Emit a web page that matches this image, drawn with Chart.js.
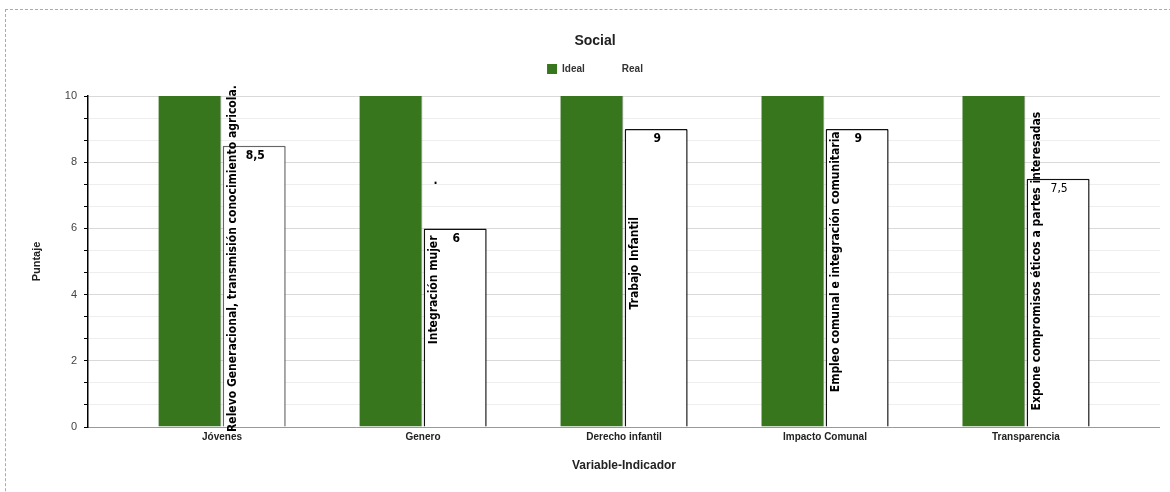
<!DOCTYPE html>
<html>
<head>
<meta charset="utf-8">
<script src="https://cdn.jsdelivr.net/npm/chart.js@4.4.0/dist/chart.umd.min.js"></script>
<style>
html,body{margin:0;padding:0;background:#fff;overflow:hidden;}
#box{position:absolute;left:5px;top:9px;width:1220px;height:600px;border:1px dashed #aaa;}
#chart{position:absolute;left:6px;top:10px;}
</style>
</head>
<body>
<div id="box"></div>
<canvas id="chart" width="1154" height="482"></canvas>
<script>
let categories=["Jóvenes","Genero","Derecho infantil","Impacto Comunal","Transparencia"];
let ideal=[10,10,10,10,10];
let real=[8.5,6,9,9,7.5];
let realLabels=["8,5","6","9","9","7,5"];
let notes=["Relevo Generacional, transmisión conocimiento agricola.","Integración mujer","Trabajo Infantil","Empleo comunal e integración comunitaria","Expone compromisos éticos a partes interesadas"];
let yTicks=[0,2,4,6,8,10];

// where the rotated notes start (axis units), kept apart from the data
let noteBottom=[-0.15,2.5,3.55,1.05,0.5];

let chart;

window.onload=function(){
    Chart.defaults.font.family="'Liberation Sans', Arial, sans-serif";
    initChart();
}

let noteFont="bold 12px 'DejaVu Sans Condensed', 'DejaVu Sans'";

let labelPlugin={
    id:"labels",
    afterDatasetsDraw(c){
        let ctx=c.ctx;
        let meta=c.getDatasetMeta(1);
        let y=c.scales.y;
        ctx.save();
        meta.data.forEach(function(bar,i){
            let left=bar.x-bar.width/2;
            ctx.fillStyle="#000";
            ctx.textAlign="center";
            ctx.textBaseline="middle";
            ctx.font=i===4?"12px 'DejaVu Sans Condensed', 'DejaVu Sans'":noteFont;
            ctx.fillText(realLabels[i],bar.x+1,bar.y+10);

            ctx.save();
            ctx.translate(left+10.5,y.getPixelForValue(noteBottom[i]));
            ctx.rotate(-Math.PI/2);
            ctx.textAlign="left";
            ctx.font=noteFont;
            ctx.fillText(notes[i],0,0);
            ctx.restore();
        });
        // stray dot in the Genero column
        let b=meta.data[1];
        ctx.font=noteFont;
        ctx.fillText(".",b.x-b.width/2+12,y.getPixelForValue(7.45));
        ctx.restore();
    }
};

function initChart(){

    let ctx=document.getElementById("chart");

    chart=new Chart(ctx,{
        type:"bar",
        data:{
            datasets:[
                {
                    label:"Ideal",
                    data:ideal.map((v,i)=>({x:i,y:v})),
                    backgroundColor:"#38761d",
                    borderColor:"#8a8a8a",
                    borderWidth:{top:0,left:0,bottom:0,right:1}
                },
                {
                    label:"Real",
                    data:real.map((v,i)=>({x:i,y:v})),
                    backgroundColor:"#ffffff",
                    borderColor:["#666","#111","#111","#111","#111"],
                    borderWidth:1.5,
                    borderRadius:1
                }
            ]
        },
        options:{
            responsive:false,
            animation:false,
            categoryPercentage:0.64,
            barPercentage:0.98,
            layout:{padding:{left:24,right:0,top:0,bottom:0}},
            plugins:{
                tooltip:{enabled:false},
                title:{
                    display:true,
                    text:"Social",
                    color:"#222",
                    font:{size:14,weight:"bold",lineHeight:1},
                    padding:{top:24,bottom:-6}
                },
                subtitle:{
                    display:true,
                    text:"",
                    weight:900,
                    font:{size:10,lineHeight:1},
                    padding:{top:2,bottom:0}
                },
                legend:{
                    labels:{
                        boxWidth:10,
                        boxHeight:10,
                        padding:22,
                        color:"#333",
                        font:{size:10,weight:"bold"},
                        generateLabels(c){
                            let items=Chart.defaults.plugins.legend.labels.generateLabels(c);
                            items[1].strokeStyle="rgba(0,0,0,0)";
                            items[1].lineWidth=0;
                            items[0].lineWidth=0;
                            return items;
                        }
                    }
                }
            },
            scales:{
                x:{
                    type:"linear",
                    offset:false,
                    min:-0.667,
                    max:4.667,
                    afterBuildTicks(s){
                        s.ticks=categories.map((c,i)=>({value:i}));
                    },
                    afterFit(s){
                        s.height=65;
                    },
                    ticks:{
                        callback:v=>categories[v],
                        color:"#222",
                        font:{size:10,weight:"bold"},
                        padding:4,
                        autoSkip:false,
                        maxRotation:0
                    },
                    grid:{display:false,drawTicks:false,offset:false},
                    border:{color:"#999"},
                    title:{
                        display:true,
                        text:"Variable-Indicador",
                        color:"#222",
                        font:{size:12,weight:"bold"},
                        padding:{top:0,bottom:18.8}
                    }
                },
                y:{
                    min:0,
                    max:10,
                    afterBuildTicks(s){
                        let t=[];
                        for(let k=0;k<yTicks.length-1;k++){
                            let a=yTicks[k],b=yTicks[k+1];
                            t.push(a,a+(b-a)/3,a+2*(b-a)/3);
                        }
                        t.push(yTicks[yTicks.length-1]);
                        s.ticks=t.map(v=>({value:v}));
                    },
                    afterFit(s){
                        s.width=58;
                    },
                    ticks:{
                        callback:v=>yTicks.includes(v)?v:"",
                        color:"#444",
                        font:{size:11},
                        padding:7,
                        autoSkip:false
                    },
                    grid:{
                        color:c=>c.tick&&yTicks.includes(c.tick.value)?"#d9d9d9":"#eeeeee",
                        tickColor:"#000",
                        tickLength:4
                    },
                    border:{color:"#000",width:1.5},
                    title:{
                        display:true,
                        text:"Puntaje",
                        color:"#222",
                        font:{size:11,weight:"bold"},
                        padding:{top:0,bottom:0}
                    }
                }
            }
        },
        plugins:[labelPlugin]
    });
}
</script>
</body>
</html>
